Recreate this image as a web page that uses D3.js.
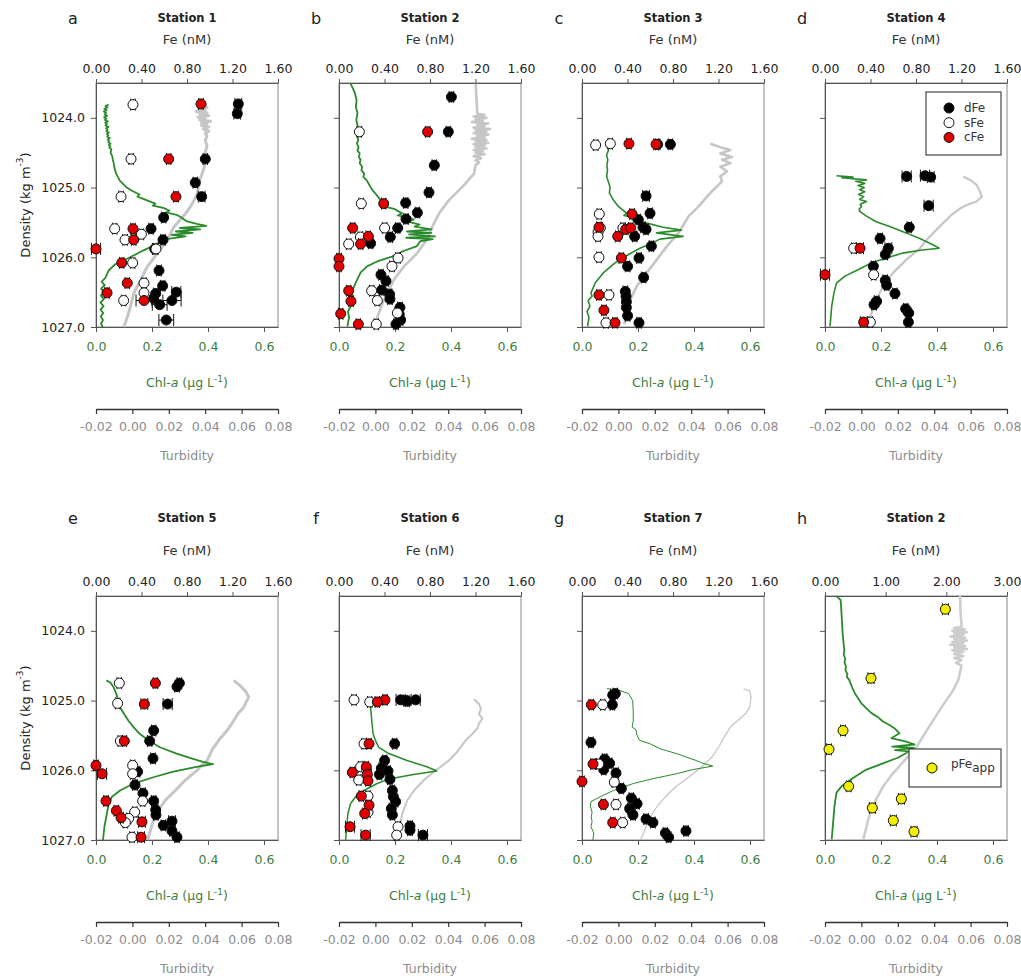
<!DOCTYPE html>
<html>
<head>
<meta charset="utf-8">
<script src="https://cdn.jsdelivr.net/npm/d3@7"></script>
<style>
body { margin: 0; background: #fff; }
svg text { font-family: "DejaVu Sans", Verdana, sans-serif; }
</style>
</head>
<body>
<svg id="chart" width="1021" height="976"></svg>
<script>
//---->TICKS AND LABELS<-----//
const densTicks = [1024, 1025, 1026, 1027];
const feTicks = [0, 0.4, 0.8, 1.2, 1.6];
const feTicksH = [0, 1, 2, 3];
const chlTicks = [0, 0.2, 0.4, 0.6];
const turbTicks = [-0.02, 0, 0.02, 0.04, 0.06, 0.08];
const letters = ['a', 'b', 'c', 'd', 'e', 'f', 'g', 'h'];
const stations = ['Station 1', 'Station 2', 'Station 3', 'Station 4', 'Station 5', 'Station 6', 'Station 7', 'Station 2'];

//---->FE SAMPLES [nM, density, error]<-----//
const dFe1 = [[1.251,1023.80,0.03],[1.242,1023.94,0.03],[0.961,1024.59,0.02],[0.873,1024.93,0.02],[0.929,1025.13,0.03],[0.595,1025.43,0.02],[0.484,1025.59,0.02],[0.589,1025.75,0.02],[0.516,1025.88,0.02],[0.554,1026.19,0.02],[0.586,1026.41,0.02],[0.706,1026.50,0.04],[0.525,1026.52,0.02],[0.507,1026.59,0.02],[0.668,1026.62,0.08],[0.560,1026.68,0.065],[0.618,1026.90,0.065]];
const sFe1 = [[0.325,1023.81,0.02],[0.308,1024.59,0.02],[0.220,1025.13,0.02],[0.164,1025.59,0.02],[0.255,1025.75,0.02],[0.399,1025.67,0.02],[0.527,1025.88,0.02],[0.322,1026.08,0.02],[0.422,1026.37,0.02],[0.422,1026.51,0.02],[0.243,1026.62,0.02]];
const cFe1 = [[0.923,1023.80,0.02],[0.639,1024.59,0.02],[0.703,1025.13,0.02],[0.325,1025.59,0.02],[0.331,1025.75,0.02],[0.000,1025.88,0.04],[0.226,1026.08,0.02],[0.275,1026.37,0.02],[0.097,1026.51,0.02],[0.422,1026.62,0.07]];

const dFe2 = [[0.988,1023.70,0.02],[0.961,1024.20,0.02],[0.838,1024.68,0.02],[0.791,1025.07,0.02],[0.586,1025.22,0.02],[0.689,1025.36,0.02],[0.589,1025.45,0.02],[0.516,1025.58,0.02],[0.451,1025.71,0.02],[0.278,1025.80,0.02],[0.369,1026.25,0.02],[0.413,1026.34,0.02],[0.375,1026.47,0.02],[0.445,1026.53,0.02],[0.448,1026.60,0.02],[0.536,1026.72,0.02],[0.530,1026.82,0.02],[0.542,1026.90,0.02],[0.501,1026.96,0.02]];
const sFe2 = [[0.179,1024.20,0.02],[0.196,1025.23,0.02],[0.401,1025.58,0.02],[0.188,1025.71,0.02],[0.085,1025.81,0.02],[0.519,1026.01,0.02],[0.466,1026.13,0.02],[0.287,1026.48,0.02],[0.337,1026.62,0.02],[0.513,1026.80,0.02],[0.328,1026.96,0.02]];
const cFe2 = [[0.779,1024.20,0.02],[0.393,1025.23,0.02],[0.120,1025.58,0.02],[0.258,1025.70,0.02],[0.190,1025.81,0.02],[0.000,1026.02,0.02],[0.000,1026.13,0.02],[0.085,1026.48,0.02],[0.105,1026.63,0.02],[0.015,1026.81,0.02],[0.170,1026.96,0.02]];

const dFe3 = [[0.777,1024.38,0.02],[0.665,1024.38,0.02],[0.563,1025.12,0.03],[0.598,1025.37,0.02],[0.495,1025.46,0.02],[0.536,1025.57,0.02],[0.563,1025.60,0.02],[0.463,1025.70,0.02],[0.610,1025.84,0.02],[0.501,1026.01,0.02],[0.401,1026.13,0.02],[0.542,1026.29,0.02],[0.381,1026.49,0.02],[0.387,1026.56,0.02],[0.390,1026.64,0.02],[0.390,1026.72,0.02],[0.401,1026.84,0.02],[0.501,1026.94,0.02]];
const sFe3 = [[0.120,1024.39,0.02],[0.249,1024.37,0.02],[0.152,1025.38,0.02],[0.161,1025.58,0.02],[0.141,1025.64,0.02],[0.141,1025.70,0.02],[0.360,1025.58,0.02],[0.149,1026.00,0.02],[0.237,1026.54,0.02],[0.211,1026.94,0.02]];
const cFe3 = [[0.413,1024.37,0.02],[0.651,1024.38,0.02],[0.440,1025.38,0.02],[0.149,1025.57,0.02],[0.384,1025.60,0.02],[0.428,1025.58,0.02],[0.314,1025.70,0.02],[0.346,1026.01,0.02],[0.149,1026.54,0.02],[0.193,1026.76,0.02],[0.290,1026.94,0.02]];

const dFe4 = [[0.718,1024.84,0.04],[0.879,1024.83,0.04],[0.929,1024.85,0.03],[0.911,1025.26,0.04],[0.741,1025.57,0.02],[0.484,1025.73,0.02],[0.557,1025.87,0.03],[0.530,1025.96,0.02],[0.425,1026.13,0.02],[0.530,1026.33,0.02],[0.542,1026.40,0.02],[0.615,1026.52,0.02],[0.454,1026.63,0.02],[0.431,1026.68,0.02],[0.709,1026.74,0.02],[0.736,1026.80,0.02],[0.733,1026.93,0.02]];
const sFe4 = [[0.252,1025.87,0.02],[0.428,1026.25,0.02],[0.399,1026.93,0.02]];
const cFe4 = [[0.308,1025.87,0.03],[0.000,1026.25,0.04],[0.340,1026.93,0.03]];

const dFe5 = [[0.733,1024.75,0.02],[0.712,1024.80,0.02],[0.630,1025.05,0.04],[0.507,1025.43,0.02],[0.472,1025.58,0.02],[0.501,1025.83,0.02],[0.366,1026.02,0.02],[0.343,1026.21,0.02],[0.413,1026.33,0.02],[0.507,1026.44,0.02],[0.525,1026.57,0.02],[0.527,1026.64,0.02],[0.592,1026.79,0.02],[0.668,1026.73,0.03],[0.668,1026.87,0.02],[0.712,1026.96,0.02]];
const sFe5 = [[0.205,1024.75,0.02],[0.190,1025.04,0.02],[0.214,1025.58,0.02],[0.322,1025.93,0.02],[0.322,1026.05,0.02],[0.410,1026.44,0.02],[0.340,1026.60,0.02],[0.287,1026.69,0.02],[0.258,1026.75,0.02],[0.316,1026.96,0.02]];
const cFe5 = [[0.522,1024.75,0.02],[0.425,1025.05,0.03],[0.249,1025.58,0.02],[0.000,1025.93,0.02],[0.053,1026.05,0.04],[0.088,1026.44,0.02],[0.179,1026.58,0.02],[0.220,1026.68,0.02],[0.404,1026.74,0.03],[0.396,1026.96,0.03]];

const dFe6 = [[0.542,1024.99,0.04],[0.586,1025.00,0.02],[0.601,1025.01,0.02],[0.674,1024.99,0.04],[0.489,1025.62,0.02],[0.401,1025.86,0.02],[0.372,1025.97,0.02],[0.355,1026.06,0.02],[0.431,1026.01,0.02],[0.448,1026.13,0.02],[0.469,1026.29,0.02],[0.478,1026.38,0.02],[0.498,1026.45,0.02],[0.460,1026.55,0.02],[0.469,1026.64,0.02],[0.624,1026.80,0.02],[0.624,1026.86,0.02],[0.738,1026.93,0.04]];
const sFe6 = [[0.132,1024.99,0.02],[0.270,1025.02,0.02],[0.220,1025.62,0.02],[0.190,1025.95,0.02],[0.243,1026.00,0.02],[0.173,1026.14,0.02],[0.255,1026.37,0.02],[0.255,1026.60,0.02],[0.519,1026.81,0.02],[0.507,1026.93,0.02]];
const cFe6 = [[0.404,1024.99,0.02],[0.337,1025.02,0.02],[0.264,1025.62,0.02],[0.240,1025.95,0.02],[0.117,1026.03,0.02],[0.249,1026.06,0.02],[0.255,1026.15,0.02],[0.196,1026.37,0.02],[0.264,1026.50,0.02],[0.226,1026.62,0.02],[0.097,1026.81,0.04],[0.234,1026.93,0.04]];

const dFe7 = [[0.293,1024.90,0.02],[0.270,1024.92,0.02],[0.267,1025.06,0.02],[0.079,1025.60,0.02],[0.199,1025.84,0.02],[0.243,1025.90,0.02],[0.191,1025.99,0.02],[0.299,1026.04,0.02],[0.346,1026.26,0.02],[0.434,1026.40,0.02],[0.484,1026.48,0.02],[0.419,1026.55,0.02],[0.448,1026.64,0.02],[0.563,1026.70,0.02],[0.624,1026.75,0.02],[0.733,1026.90,0.02],[0.762,1026.96,0.02],[0.914,1026.87,0.02]];
const sFe7 = [[0.182,1025.06,0.02],[0.147,1025.91,0.02],[0.284,1026.17,0.02],[0.299,1026.49,0.02],[0.357,1026.75,0.02]];
const cFe7 = [[0.082,1025.06,0.02],[0.097,1025.91,0.02],[0.000,1026.16,0.02],[0.188,1026.49,0.02],[0.270,1026.75,0.02]];

const pFe2 = [[1.984,1023.69,0.05],[0.758,1024.68,0.05],[0.297,1025.43,0.04],[0.066,1025.70,0.04],[0.390,1026.23,0.04],[1.258,1026.41,0.05],[0.780,1026.54,0.05],[1.126,1026.72,0.05],[1.467,1026.88,0.05]];

//---->CTD PROFILES [value, density]<-----//
const chl1 = [[0.045,1023.81],[0.034,1023.83],[0.041,1023.85],[0.030,1023.87],[0.038,1023.89],[0.028,1023.91],[0.036,1023.93],[0.031,1023.95],[0.040,1023.97],[0.029,1023.99],[0.037,1024.01],[0.032,1024.03],[0.042,1024.05],[0.033,1024.07],[0.039,1024.09],[0.034,1024.11],[0.044,1024.13],[0.036,1024.15],[0.041,1024.17],[0.037,1024.19],[0.046,1024.21],[0.039,1024.23],[0.044,1024.25],[0.040,1024.27],[0.049,1024.29],[0.042,1024.31],[0.047,1024.33],[0.044,1024.35],[0.052,1024.37],[0.046,1024.39],[0.051,1024.41],[0.048,1024.43],[0.055,1024.45],[0.052,1024.50],[0.058,1024.55],[0.060,1024.60],[0.064,1024.66],[0.066,1024.72],[0.072,1024.80],[0.085,1024.90],[0.110,1025.00],[0.130,1025.05],[0.155,1025.10],[0.148,1025.13],[0.187,1025.19],[0.212,1025.23],[0.203,1025.26],[0.240,1025.29],[0.262,1025.33],[0.252,1025.36],[0.288,1025.39],[0.305,1025.43],[0.322,1025.48],[0.360,1025.52],[0.394,1025.55],[0.300,1025.58],[0.372,1025.60],[0.285,1025.63],[0.345,1025.65],[0.270,1025.68],[0.320,1025.70],[0.250,1025.74],[0.217,1025.81],[0.170,1025.90],[0.122,1026.00],[0.069,1026.10],[0.045,1026.19],[0.033,1026.30],[0.020,1026.35],[0.031,1026.40],[0.018,1026.45],[0.029,1026.50],[0.017,1026.55],[0.028,1026.60],[0.016,1026.65],[0.027,1026.70],[0.016,1026.75],[0.026,1026.80],[0.017,1026.85],[0.025,1026.90],[0.018,1026.95],[0.024,1027.00]];
const turb1 = [[0.041,1023.81],[0.038,1023.83],[0.041,1023.85],[0.036,1023.87],[0.040,1023.89],[0.035,1023.91],[0.041,1023.93],[0.037,1023.95],[0.042,1023.97],[0.036,1023.99],[0.040,1024.01],[0.037,1024.03],[0.043,1024.05],[0.038,1024.07],[0.041,1024.09],[0.038,1024.11],[0.042,1024.13],[0.039,1024.16],[0.042,1024.19],[0.040,1024.22],[0.041,1024.26],[0.040,1024.32],[0.041,1024.40],[0.040,1024.50],[0.0395,1024.71],[0.037,1024.90],[0.0355,1025.10],[0.0327,1025.24],[0.029,1025.38],[0.0227,1025.57],[0.019,1025.76],[0.0135,1025.95],[0.008,1026.14],[0.0044,1026.33],[0.0007,1026.52],[-0.0011,1026.71],[-0.0033,1026.90],[-0.0048,1027.00]];

const chl2 = [[0.041,1023.51],[0.050,1023.58],[0.057,1023.65],[0.063,1023.75],[0.060,1023.84],[0.066,1023.93],[0.062,1024.03],[0.067,1024.13],[0.063,1024.22],[0.069,1024.32],[0.064,1024.37],[0.070,1024.42],[0.066,1024.47],[0.074,1024.51],[0.071,1024.56],[0.077,1024.60],[0.074,1024.65],[0.083,1024.70],[0.080,1024.75],[0.090,1024.80],[0.087,1024.85],[0.098,1024.89],[0.108,1024.96],[0.118,1025.03],[0.135,1025.11],[0.148,1025.18],[0.175,1025.25],[0.160,1025.27],[0.200,1025.31],[0.225,1025.37],[0.210,1025.40],[0.250,1025.43],[0.266,1025.46],[0.245,1025.49],[0.288,1025.53],[0.270,1025.56],[0.331,1025.60],[0.243,1025.63],[0.330,1025.65],[0.250,1025.67],[0.343,1025.70],[0.240,1025.72],[0.335,1025.74],[0.290,1025.77],[0.278,1025.84],[0.231,1025.91],[0.189,1025.99],[0.136,1026.06],[0.100,1026.13],[0.077,1026.22],[0.059,1026.37],[0.044,1026.51],[0.050,1026.56],[0.036,1026.62],[0.042,1026.70],[0.032,1026.78],[0.036,1026.86],[0.030,1026.99]];
const turb2 = [[0.0551,1023.51],[0.0556,1023.75],[0.056,1023.94],[0.060,1023.96],[0.054,1023.98],[0.061,1024.00],[0.055,1024.02],[0.059,1024.04],[0.053,1024.06],[0.062,1024.08],[0.056,1024.10],[0.060,1024.12],[0.054,1024.14],[0.063,1024.16],[0.055,1024.18],[0.061,1024.20],[0.054,1024.22],[0.062,1024.24],[0.056,1024.26],[0.060,1024.28],[0.053,1024.30],[0.061,1024.32],[0.055,1024.34],[0.062,1024.36],[0.054,1024.38],[0.060,1024.40],[0.055,1024.42],[0.061,1024.44],[0.054,1024.46],[0.059,1024.48],[0.055,1024.50],[0.060,1024.52],[0.054,1024.55],[0.058,1024.58],[0.055,1024.61],[0.057,1024.64],[0.055,1024.68],[0.0542,1024.80],[0.0478,1024.99],[0.0404,1025.18],[0.035,1025.37],[0.0313,1025.56],[0.0282,1025.75],[0.023,1025.94],[0.0157,1026.13],[0.0102,1026.32],[0.0066,1026.51],[0.0033,1026.70],[-0.0008,1026.99]];

const chl3 = [[0.086,1024.39],[0.095,1024.46],[0.088,1024.53],[0.092,1024.60],[0.089,1024.68],[0.091,1024.75],[0.088,1024.84],[0.100,1024.99],[0.098,1025.08],[0.112,1025.18],[0.130,1025.27],[0.160,1025.37],[0.150,1025.40],[0.195,1025.44],[0.180,1025.47],[0.231,1025.51],[0.290,1025.57],[0.355,1025.61],[0.266,1025.65],[0.361,1025.70],[0.278,1025.74],[0.254,1025.79],[0.207,1025.87],[0.166,1025.96],[0.118,1026.08],[0.077,1026.22],[0.047,1026.37],[0.032,1026.51],[0.036,1026.56],[0.022,1026.62],[0.028,1026.70],[0.018,1026.78],[0.025,1026.86],[0.020,1026.99]];
const turb3 = [[0.0505,1024.37],[0.056,1024.42],[0.0615,1024.46],[0.056,1024.51],[0.0624,1024.56],[0.057,1024.60],[0.0615,1024.65],[0.056,1024.70],[0.0597,1024.77],[0.056,1024.84],[0.0569,1024.91],[0.0523,1025.03],[0.0487,1025.13],[0.0441,1025.27],[0.0386,1025.41],[0.0359,1025.53],[0.0331,1025.65],[0.0267,1025.84],[0.0212,1026.03],[0.0157,1026.22],[0.0102,1026.41],[0.0066,1026.60],[0.0044,1026.80],[0.0033,1026.96]];

const chl4 = [[0.041,1024.83],[0.100,1024.85],[0.060,1024.86],[0.148,1024.89],[0.110,1024.91],[0.142,1024.94],[0.118,1024.97],[0.140,1025.00],[0.124,1025.03],[0.142,1025.06],[0.120,1025.10],[0.138,1025.13],[0.124,1025.17],[0.148,1025.20],[0.126,1025.24],[0.130,1025.27],[0.122,1025.31],[0.124,1025.34],[0.148,1025.41],[0.183,1025.49],[0.231,1025.56],[0.290,1025.65],[0.349,1025.75],[0.385,1025.82],[0.408,1025.87],[0.340,1025.90],[0.278,1025.94],[0.219,1026.01],[0.166,1026.08],[0.118,1026.18],[0.071,1026.27],[0.041,1026.37],[0.032,1026.51],[0.024,1026.70],[0.020,1026.89],[0.018,1026.99]];
const turb4 = [[0.056,1024.84],[0.0597,1024.89],[0.0633,1024.96],[0.0652,1025.06],[0.0661,1025.13],[0.0633,1025.20],[0.0578,1025.25],[0.0542,1025.30],[0.0487,1025.41],[0.0414,1025.60],[0.0359,1025.75],[0.0322,1025.87],[0.0249,1026.03],[0.0175,1026.22],[0.012,1026.41],[0.0084,1026.60],[0.0056,1026.80],[0.0029,1026.99]];

const chl5 = [[0.037,1024.71],[0.051,1024.74],[0.063,1024.81],[0.072,1024.90],[0.080,1025.00],[0.086,1025.10],[0.100,1025.19],[0.116,1025.29],[0.134,1025.38],[0.157,1025.48],[0.187,1025.57],[0.228,1025.67],[0.288,1025.76],[0.341,1025.83],[0.382,1025.88],[0.418,1025.91],[0.359,1025.95],[0.276,1026.02],[0.205,1026.10],[0.134,1026.19],[0.086,1026.29],[0.057,1026.38],[0.045,1026.48],[0.039,1026.62],[0.030,1026.81],[0.025,1027.00]];
const turb5 = [[0.0556,1024.71],[0.0593,1024.79],[0.062,1024.86],[0.0639,1024.95],[0.0625,1025.02],[0.0611,1025.10],[0.058,1025.19],[0.0556,1025.29],[0.052,1025.43],[0.0474,1025.57],[0.0437,1025.71],[0.041,1025.86],[0.038,1025.93],[0.0355,1026.00],[0.0291,1026.14],[0.0236,1026.29],[0.0181,1026.43],[0.0144,1026.57],[0.0117,1026.71],[0.0099,1026.86],[0.0084,1027.00]];

const chl6 = [[0.100,1024.99],[0.112,1025.07],[0.115,1025.19],[0.118,1025.33],[0.122,1025.48],[0.130,1025.57],[0.142,1025.67],[0.178,1025.76],[0.243,1025.86],[0.314,1025.95],[0.349,1026.01],[0.266,1026.06],[0.183,1026.12],[0.136,1026.19],[0.089,1026.29],[0.059,1026.38],[0.041,1026.48],[0.032,1026.62],[0.027,1026.81],[0.024,1027.00]];
const turb6 = [[0.0542,1024.98],[0.0569,1025.05],[0.058,1025.12],[0.0569,1025.19],[0.0588,1025.26],[0.0569,1025.33],[0.056,1025.40],[0.0533,1025.48],[0.0496,1025.57],[0.0468,1025.67],[0.0441,1025.76],[0.0404,1025.86],[0.0359,1025.95],[0.0322,1026.02],[0.0267,1026.14],[0.0212,1026.29],[0.0175,1026.43],[0.0148,1026.62],[0.0135,1026.81],[0.012,1027.00]];

const chl7 = [[0.089,1024.83],[0.124,1024.84],[0.166,1024.90],[0.181,1025.00],[0.183,1025.14],[0.183,1025.29],[0.179,1025.38],[0.193,1025.42],[0.195,1025.48],[0.205,1025.57],[0.243,1025.62],[0.278,1025.69],[0.337,1025.76],[0.408,1025.86],[0.432,1025.90],[0.467,1025.94],[0.396,1025.99],[0.337,1026.05],[0.254,1026.12],[0.183,1026.19],[0.112,1026.29],[0.065,1026.38],[0.032,1026.45],[0.030,1026.52],[0.036,1026.60],[0.033,1026.67],[0.036,1026.74],[0.032,1026.81],[0.042,1026.90],[0.039,1027.00]];
const turb7 = [[0.0688,1024.83],[0.0721,1024.86],[0.0729,1024.95],[0.0721,1025.10],[0.0697,1025.19],[0.0655,1025.29],[0.0615,1025.38],[0.0582,1025.52],[0.0551,1025.67],[0.0514,1025.81],[0.0459,1025.95],[0.0386,1026.10],[0.0313,1026.24],[0.0258,1026.38],[0.0212,1026.52],[0.0166,1026.71],[0.0139,1026.90],[0.0121,1027.00]];

const chl8 = [[0.041,1023.50],[0.056,1023.56],[0.059,1023.75],[0.063,1024.04],[0.066,1024.16],[0.069,1024.28],[0.067,1024.34],[0.072,1024.40],[0.070,1024.46],[0.075,1024.51],[0.073,1024.56],[0.080,1024.62],[0.078,1024.66],[0.086,1024.70],[0.092,1024.76],[0.098,1024.82],[0.107,1024.90],[0.130,1025.04],[0.150,1025.12],[0.166,1025.18],[0.190,1025.24],[0.207,1025.30],[0.230,1025.35],[0.249,1025.40],[0.266,1025.47],[0.237,1025.54],[0.290,1025.59],[0.320,1025.63],[0.240,1025.66],[0.318,1025.68],[0.250,1025.71],[0.300,1025.73],[0.260,1025.82],[0.207,1025.90],[0.148,1025.99],[0.100,1026.11],[0.059,1026.23],[0.041,1026.32],[0.034,1026.51],[0.030,1026.70],[0.024,1026.99]];
const turb8 = [[0.0542,1023.50],[0.0545,1023.75],[0.0551,1023.94],[0.051,1023.96],[0.057,1023.98],[0.050,1024.00],[0.058,1024.02],[0.051,1024.04],[0.056,1024.06],[0.049,1024.08],[0.057,1024.10],[0.051,1024.12],[0.058,1024.14],[0.050,1024.16],[0.056,1024.18],[0.049,1024.20],[0.057,1024.22],[0.051,1024.24],[0.058,1024.26],[0.050,1024.28],[0.056,1024.30],[0.051,1024.33],[0.056,1024.36],[0.051,1024.39],[0.055,1024.42],[0.052,1024.46],[0.055,1024.50],[0.0533,1024.70],[0.0505,1024.85],[0.0468,1024.99],[0.0432,1025.13],[0.0395,1025.28],[0.0349,1025.47],[0.0304,1025.66],[0.024,1025.85],[0.0175,1026.04],[0.012,1026.23],[0.008,1026.42],[0.0038,1026.70],[0.0011,1026.99]];

//---->PANEL TABLE<-----//
const panels = [
	{ fe: [dFe1, sFe1, cFe1], chl: chl1, turb: turb1 },
	{ fe: [dFe2, sFe2, cFe2], chl: chl2, turb: turb2 },
	{ fe: [dFe3, sFe3, cFe3], chl: chl3, turb: turb3 },
	{ fe: [dFe4, sFe4, cFe4], chl: chl4, turb: turb4 },
	{ fe: [dFe5, sFe5, cFe5], chl: chl5, turb: turb5 },
	{ fe: [dFe6, sFe6, cFe6], chl: chl6, turb: turb6 },
	{ fe: [dFe7, sFe7, cFe7], chl: chl7, turb: turb7 },
	{ fe: [pFe2], chl: chl8, turb: turb8 }
];

// styling
const feFill = ['#000', '#fff', '#e00000'];
const pFill = '#f2ee00';
const green = '#2b8a2b',
	greenText = '#3d7d3d',
	greyText = '#8c8c8c',
	axisCol = '#555';
const chlWidth = [1.8, 1.8, 1.6, 1.6, 1.8, 1.5, 1.0, 1.8];
const turbWidth = [3, 2.6, 2.6, 2.2, 3, 2, 1.2, 2.6];
const turbCol = ['#c6c6c6', '#c6c6c6', '#c6c6c6', '#c6c6c6', '#c6c6c6', '#c6c6c6', '#c4c4c4', '#cdcdcd'];

const panelW = 182,
	panelH = 244;
const rowTop = [83, 596],
	titleOff = [-65, -78],
	feLabOff = [-44, -46];
const r = 5;

const svg = d3.select('#chart');

function addUnits(sel, pre, sup, post, italicA) {
	if (italicA) {
		sel.append('tspan').text('Chl-');
		sel.append('tspan').attr('font-style', 'italic').text('a');
		sel.append('tspan').text(' (µg L');
	} else {
		sel.append('tspan').text(pre);
	}
	sel.append('tspan').attr('font-size', '9px').attr('dy', -5).text(sup);
	sel.append('tspan').attr('dy', 5).text(post);
}

panels.forEach((p, i) => {
	const col = i % 4,
		row = Math.floor(i / 4);
	const left = 96 + col * 243,
		top = rowTop[row];
	const isH = i === 7;

	const g = svg.append('g').attr('transform', `translate(${left},${top})`);

	const x = d3.scaleLinear().domain(isH ? [0, 3] : [0, 1.6]).range([0, panelW]);
	const xChl = d3.scaleLinear().domain([0, 0.65]).range([0, panelW]);
	const xTurb = d3.scaleLinear().domain([-0.02, 0.08]).range([0, panelW]);
	const y = d3.scaleLinear().domain([1023.5, 1027]).range([0, panelH]);

	// frame
	g.append('rect')
		.attr('width', panelW)
		.attr('height', panelH)
		.attr('fill', 'none')
		.attr('stroke', '#8a8a8a')
		.attr('stroke-width', 1);

	// top Fe axis
	const topAx = g.append('g')
		.call(d3.axisTop(x)
			.tickValues(isH ? feTicksH : feTicks)
			.tickFormat(d3.format('.2f'))
			.tickSize(4)
			.tickSizeOuter(0)
			.tickPadding(6));

	// left density axis
	const leftAx = g.append('g')
		.call(d3.axisLeft(y)
			.tickValues(densTicks)
			.tickFormat(col === 0 ? d3.format('.1f') : '')
			.tickSize(5)
			.tickSizeOuter(0)
			.tickPadding(6));

	// bottom chl axis
	const botAx = g.append('g')
		.attr('transform', `translate(0,${panelH})`)
		.call(d3.axisBottom(xChl)
			.tickValues(chlTicks)
			.tickFormat(d3.format('.1f'))
			.tickSize(5)
			.tickSizeOuter(0)
			.tickPadding(10));

	// turbidity axis
	const turbAx = g.append('g')
		.attr('transform', `translate(0,${panelH + 82})`)
		.call(d3.axisBottom(xTurb)
			.tickValues(turbTicks)
			.tickFormat(d3.format('.2f'))
			.tickSize(5)
			.tickSizeOuter(0)
			.tickPadding(8));

	[topAx, leftAx, botAx].forEach(a => {
		a.select('.domain').attr('stroke', axisCol);
		a.selectAll('.tick line').attr('stroke', axisCol);
		a.selectAll('.tick text').attr('font-size', '12.5px').attr('fill', '#222')
			.attr('font-family', '"DejaVu Sans", Verdana, sans-serif');
	});
	botAx.selectAll('.tick text').attr('fill', greenText);
	turbAx.select('.domain').attr('stroke', '#333').attr('stroke-width', 1.6);
	turbAx.selectAll('.tick line').attr('stroke', '#333').attr('stroke-width', 1.2);
	turbAx.selectAll('.tick text')
		.attr('font-size', '12.5px')
		.attr('fill', greyText)
		.attr('font-family', '"Liberation Sans", Arial, sans-serif')
		.text(d => d3.format('.2f')(d).replace('−', '-'));

	// titles
	g.append('text')
		.attr('x', -23)
		.attr('y', titleOff[row])
		.attr('dominant-baseline', 'central')
		.attr('text-anchor', 'middle')
		.attr('font-size', '16px')
		.attr('fill', '#222')
		.text(letters[i]);

	g.append('text')
		.attr('x', panelW / 2)
		.attr('y', titleOff[row])
		.attr('dominant-baseline', 'central')
		.attr('text-anchor', 'middle')
		.attr('font-size', '11.5px')
		.attr('font-weight', 'bold')
		.attr('fill', '#222')
		.text(stations[i]);

	g.append('text')
		.attr('x', panelW / 2)
		.attr('y', feLabOff[row])
		.attr('dominant-baseline', 'central')
		.attr('text-anchor', 'middle')
		.attr('font-size', '13px')
		.attr('fill', '#333')
		.text('Fe (nM)');

	const chlLab = g.append('text')
		.attr('x', panelW / 2)
		.attr('y', panelH + 60)
		.attr('text-anchor', 'middle')
		.attr('font-size', '12.5px')
		.attr('fill', greenText);
	addUnits(chlLab, '', '-1', ')', true);

	g.append('text')
		.attr('x', panelW / 2)
		.attr('y', panelH + 133)
		.attr('text-anchor', 'middle')
		.attr('font-size', '12.5px')
		.attr('font-family', '"Liberation Sans", Arial, sans-serif')
		.attr('fill', greyText)
		.text('Turbidity');

	if (col === 0) {
		const yl = g.append('text')
			.attr('transform', `translate(-71,${panelH / 2}) rotate(-90)`)
			.attr('text-anchor', 'middle')
			.attr('dominant-baseline', 'central')
			.attr('font-size', '13px')
			.attr('fill', '#222');
		addUnits(yl, 'Density (kg m', '-3', ')', false);
	}

	// profiles
	const lineTurb = d3.line().x(d => xTurb(d[0])).y(d => y(d[1]));
	const lineChl = d3.line().x(d => xChl(d[0])).y(d => y(d[1]));

	g.append('path')
		.datum(p.turb)
		.attr('d', lineTurb)
		.attr('fill', 'none')
		.attr('stroke', turbCol[i])
		.attr('stroke-width', turbWidth[i])
		.attr('stroke-linejoin', 'round');

	g.append('path')
		.datum(p.chl)
		.attr('d', lineChl)
		.attr('fill', 'none')
		.attr('stroke', green)
		.attr('stroke-width', chlWidth[i])
		.attr('stroke-linejoin', 'round');

	// Fe points with error bars
	p.fe.forEach((series, k) => {
		const gs = g.append('g');
		const bars = gs.selectAll('.err')
			.data(series)
			.enter().append('g').attr('class', 'err')
			.attr('stroke', '#111')
			.attr('stroke-width', 1);
		bars.append('line')
			.attr('x1', d => x(d[0] - d[2]))
			.attr('x2', d => x(d[0] + d[2]))
			.attr('y1', d => y(d[1]))
			.attr('y2', d => y(d[1]));
		bars.append('line')
			.attr('x1', d => x(d[0] - d[2]))
			.attr('x2', d => x(d[0] - d[2]))
			.attr('y1', d => y(d[1]) - 6)
			.attr('y2', d => y(d[1]) + 6);
		bars.append('line')
			.attr('x1', d => x(d[0] + d[2]))
			.attr('x2', d => x(d[0] + d[2]))
			.attr('y1', d => y(d[1]) - 6)
			.attr('y2', d => y(d[1]) + 6);

		gs.selectAll('circle')
			.data(series)
			.enter().append('circle')
			.attr('cx', d => x(d[0]))
			.attr('cy', d => y(d[1]))
			.attr('r', r)
			.attr('fill', isH ? pFill : feFill[k])
			.attr('stroke', '#111')
			.attr('stroke-width', 1);
	});

	// legends
	if (i === 3) {
		const lg = g.append('g').attr('transform', 'translate(101,9)');
		lg.append('rect')
			.attr('width', 75)
			.attr('height', 63)
			.attr('fill', '#fff')
			.attr('stroke', '#222');
		['dFe', 'sFe', 'cFe'].forEach((lab, k) => {
			lg.append('circle')
				.attr('cx', 23)
				.attr('cy', 16 + k * 14.7)
				.attr('r', r)
				.attr('fill', feFill[k])
				.attr('stroke', '#111');
			lg.append('text')
				.attr('x', 38)
				.attr('y', 16 + k * 14.7)
				.attr('dominant-baseline', 'central')
				.attr('font-size', '12px')
				.attr('fill', '#333')
				.text(lab);
		});
	}
	if (isH) {
		const lg = g.append('g').attr('transform', 'translate(84,153)');
		lg.append('rect')
			.attr('width', 92)
			.attr('height', 38)
			.attr('fill', '#fff')
			.attr('stroke', '#222');
		lg.append('circle')
			.attr('cx', 23)
			.attr('cy', 19)
			.attr('r', r)
			.attr('fill', pFill)
			.attr('stroke', '#111');
		const t = lg.append('text')
			.attr('x', 42)
			.attr('y', 19)
			.attr('font-size', '12px')
			.attr('fill', '#333');
		t.append('tspan').text('pFe');
		t.append('tspan').attr('dy', 4).text('app');
	}
});
</script>
</body>
</html>
